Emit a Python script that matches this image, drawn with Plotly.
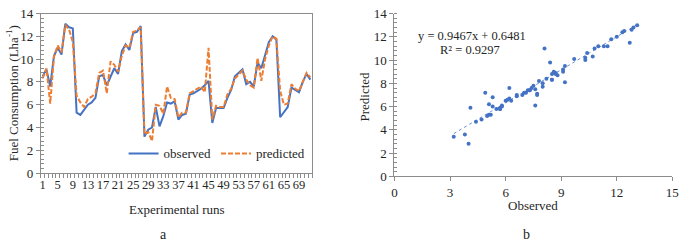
import plotly.graph_objects as go

runs = list(range(1, 73))
observed = [8.5, 9.1, 7.6, 10.3, 11.0, 10.4, 13.1, 12.8, 12.7, 5.3,
            5.1, 5.5, 6.0, 6.2, 6.6, 8.5, 8.6, 7.7, 8.4, 9.2,
            8.7, 10.7, 11.3, 10.8, 12.3, 12.4, 12.9, 3.2, 3.8, 4.0,
            5.8, 4.1, 5.0, 6.2, 6.1, 6.3, 4.7, 5.1, 5.2, 6.9,
            7.0, 7.2, 7.4, 7.7, 8.1, 4.4, 5.7, 5.7, 5.7, 6.6,
            7.3, 8.5, 8.8, 9.1, 7.8, 8.0, 7.6, 9.7, 9.2, 10.3,
            11.5, 12.0, 11.7, 4.9, 5.3, 5.8, 7.5, 7.3, 7.1, 8.0,
            8.7, 8.2]
predicted = [8.3, 9.2, 6.1, 10.2, 11.2, 10.6, 13.0, 12.6, 11.5, 6.8,
             6.2, 5.8, 6.5, 6.7, 7.0, 8.8, 9.0, 7.0, 9.8, 9.5,
             8.9, 10.3, 11.2, 11.0, 12.4, 12.5, 12.8, 3.4, 3.6, 2.8,
             6.0, 5.9, 5.2, 7.6, 6.6, 6.5, 4.9, 5.3, 5.3, 7.0,
             7.2, 7.4, 7.6, 7.1, 11.0, 4.7, 5.9, 5.8, 5.8, 6.9,
             7.4, 8.3, 8.7, 9.0, 8.2, 7.7, 7.5, 10.1, 8.1, 10.0,
             11.2, 12.0, 11.8, 7.2, 6.0, 6.1, 7.8, 7.4, 7.2, 8.0,
             8.8, 8.4]
run_tick_labels = list(range(1, 72, 4))
y_ticks = list(range(0, 15, 2))
obs_ticks = [0, 3, 6, 9, 12, 15]
slope = 0.9467
intercept = 0.6481
r2 = 0.9297

BLUE = "#4472C4"
ORANGE = "#ED7D31"
FONT = "Liberation Serif, Times New Roman, serif"
TXT = "#262626"
AX = "#8C8C8C"

fig = go.Figure()
fig.add_trace(go.Scatter(x=runs, y=observed, mode="lines", name="observed",
                         line=dict(color=BLUE, width=2), xaxis="x", yaxis="y"))
fig.add_trace(go.Scatter(x=runs, y=predicted, mode="lines", name="predicted",
                         line=dict(color=ORANGE, width=2, dash="5px,2px"), xaxis="x", yaxis="y"))

fig.add_trace(go.Scatter(x=observed, y=predicted, mode="markers", showlegend=False,
                         marker=dict(color=BLUE, size=4), xaxis="x2", yaxis="y2"))
xmin, xmax = min(observed), max(observed)
fig.add_trace(go.Scatter(x=[xmin, xmax], y=[slope * xmin + intercept, slope * xmax + intercept],
                         mode="lines", showlegend=False,
                         line=dict(color=BLUE, width=0.8, dash="dot"), xaxis="x2", yaxis="y2"))

fig.update_layout(
    width=685, height=249,
    margin=dict(l=0, r=0, t=0, b=0),
    paper_bgcolor="white", plot_bgcolor="white",
    font=dict(family=FONT, size=13, color=TXT),
    legend=dict(orientation="h", x=0.455, y=0.31, xanchor="right", yanchor="bottom",
                bgcolor="rgba(0,0,0,0)", font=dict(size=13, family=FONT),
                itemwidth=30, tracegroupgap=0),
    xaxis=dict(domain=[0.0559, 0.4574], range=[0.5, 72.5],
               tickmode="array", tickvals=run_tick_labels, ticks="", ticklen=0,
               tickangle=0, ticklabeloverflow="allow",
               showgrid=False, zeroline=False, showline=True, linecolor=AX, linewidth=1,
               mirror=True, tickfont=dict(size=12.5, family=FONT),
               minor=dict(tickmode="linear", tick0=0.5, dtick=1, ticks="outside",
                          ticklen=4, tickcolor=AX, showgrid=False)),
    yaxis=dict(domain=[0.2904, 0.9719], range=[0, 14], tickvals=y_ticks,
               ticks="outside", ticklen=4, tickcolor=AX, ticklabeloverflow="allow",
               showgrid=False, zeroline=False, showline=True, linecolor=AX, linewidth=1,
               mirror=True, tickfont=dict(size=13, family=FONT),
               minor=dict(tickmode="linear", tick0=0, dtick=0.4, ticks="inside",
                          ticklen=3, tickcolor=AX, showgrid=False)),
    xaxis2=dict(domain=[0.5791, 0.9902], range=[0, 15], tickvals=obs_ticks,
                ticks="outside", ticklen=4, tickcolor=AX, anchor="y2",
                ticklabeloverflow="allow", tickangle=0,
                showgrid=False, zeroline=False, showline=True, linecolor=AX, linewidth=1,
                tickfont=dict(size=13, family=FONT)),
    yaxis2=dict(domain=[0.2761, 0.9719], range=[0, 14], tickvals=y_ticks, anchor="x2",
                ticks="outside", ticklen=4, tickcolor=AX, ticklabeloverflow="allow",
                showgrid=False, zeroline=False, showline=True, linecolor=AX, linewidth=1,
                tickfont=dict(size=13, family=FONT),
                minor=dict(tickmode="linear", tick0=0, dtick=0.4, ticks="inside",
                           ticklen=3, tickcolor=AX, showgrid=False)),
)

ann = [
    dict(text="Fuel Consumption (Lha<sup>-1</sup>)", x=10, y=92, textangle=-90, size=13),
    dict(text="Experimental runs", x=176, y=215, size=13),
    dict(text="a", x=163, y=242, size=14),
    dict(text="Predicted", x=366, y=95, textangle=-90, size=13),
    dict(text="Observed", x=537, y=211, size=13),
    dict(text="b", x=530, y=242, size=14),
    dict(text=f"y = {slope}x + {intercept}", x=475, y=31, size=12.5),
    dict(text=f"R² = {r2}", x=473, y=46, size=12.5),
]
for a in ann:
    fig.add_annotation(text=a["text"], xref="paper", yref="paper",
                       x=a["x"] / 685, y=1 - a["y"] / 249, xanchor="center", yanchor="middle",
                       showarrow=False, textangle=a.get("textangle", 0),
                       font=dict(family=FONT, size=a["size"], color=TXT))

fig.write_html("out.html", config={"displayModeBar": False},
               post_script="document.body.style.margin='0';document.body.style.overflow='hidden';")
